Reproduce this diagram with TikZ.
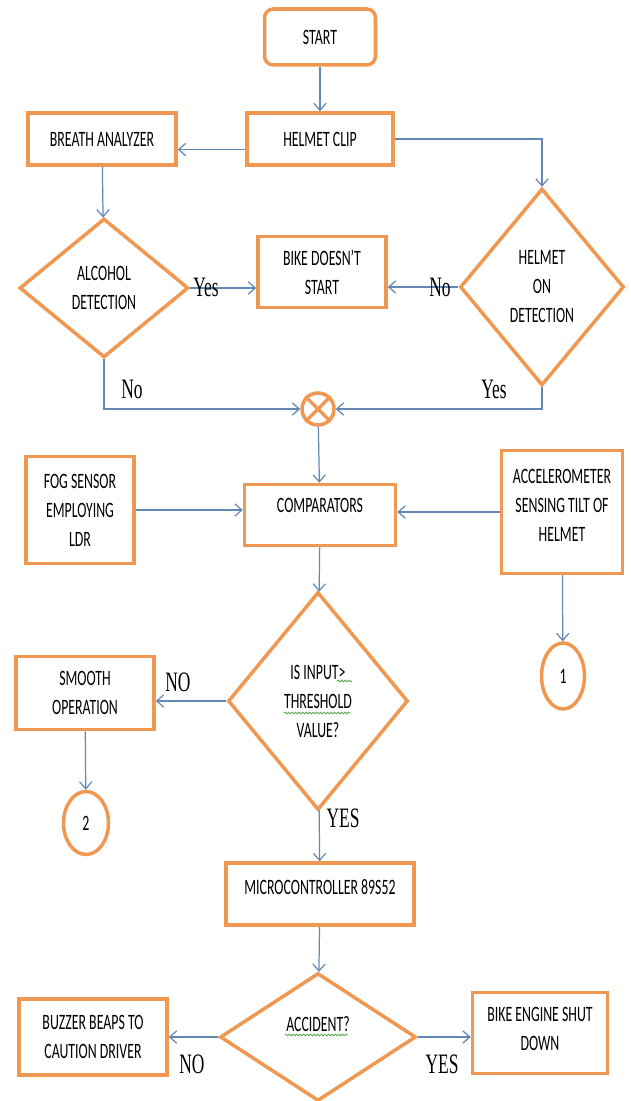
\documentclass[tikz,border=0pt]{standalone}
\usepackage{fontspec}
\usepackage{tikz}
\usetikzlibrary{shapes.geometric,arrows.meta,decorations.pathmorphing}
\newfontfamily\boxfamily[FakeStretch=0.63]{Carlito}
\newfontfamily\labelfamily[FakeStretch=0.62]{Liberation Serif}
\newcommand{\boxtext}{\boxfamily\fontsize{12.5}{16.5}\selectfont}
\newcommand{\labeltext}{\labelfamily\fontsize{16}{18}\selectfont}
\definecolor{boxorange}{RGB}{240,152,82}
\definecolor{linkblue}{RGB}{98,136,182}
\definecolor{spellgreen}{RGB}{92,168,80}
\tikzset{
  block/.style={draw=boxorange, line width=2pt, fill=white, font=\boxtext, align=center, inner sep=1pt},
  roundblock/.style={block, rounded corners=5pt},
  decision/.style={block, diamond},
  joint/.style={block, ellipse},
  flow/.style={draw=linkblue, line width=0.7pt, -{Straight Barb[length=4pt,width=7pt]}},
  lab/.style={font=\labeltext, inner sep=0pt},
  spell/.style={draw=spellgreen, line width=0.5pt, decorate, decoration={snake, amplitude=0.5pt, segment length=2pt}}
}

\begin{document}
\begin{tikzpicture}[x=0.02cm, y=-0.02cm]
   \useasboundingbox (0,0) rectangle (630,1101);
   \node[roundblock, minimum width=2.22cm, minimum height=1.12cm] (start) at (320,37) {START};
   \node[block, minimum width=2.92cm, minimum height=1.04cm] (clip) at (320,139) {HELMET CLIP};
   \node[block, minimum width=2.96cm, minimum height=1.04cm] (breath) at (102,139) {BREATH ANALYZER};
   \node[decision, minimum width=3.38cm, minimum height=2.78cm] (alcohol) at (104,288) {ALCOHOL\\DETECTION};
   \node[block, minimum width=2.56cm, minimum height=1.42cm] (nostart) at (322,272) {BIKE DOESN’T\\START};
   \node[decision, minimum width=3.28cm, minimum height=3.94cm] (helmet) at (542,287) {HELMET\\ON\\DETECTION};
   \node[circle, draw=boxorange, line width=2pt, fill=white, minimum size=0.64cm, inner sep=0pt] (sum) at (318,409) {};
   \draw[boxorange, line width=2pt] (sum.45) -- (sum.225) (sum.135) -- (sum.315);
   \node[block, minimum width=2.16cm, minimum height=2.14cm] (fog) at (80,510) {FOG SENSOR\\EMPLOYING\\LDR};
   \node[block, minimum width=3.02cm, minimum height=1.22cm, text depth=0.4cm] (comp) at (320,515) {COMPARATORS};
   \node[block, minimum width=2.42cm, minimum height=2.46cm, text depth=0.25cm] (accel) at (562,512) {ACCELEROMETER\\SENSING TILT OF\\HELMET};
   \node[joint, minimum width=0.86cm, minimum height=1.32cm] (one) at (563,676) {1};
   \node[decision, minimum width=3.6cm, minimum height=4.36cm] (thresh) at (318,701) {IS INPUT>\\THRESHOLD\\VALUE?};
   \node[block, minimum width=2.76cm, minimum height=1.46cm] (smooth) at (85,693) {SMOOTH\\OPERATION};
   \node[joint, minimum width=0.9cm, minimum height=1.26cm] (two) at (86,823) {2};
   \node[block, minimum width=3.76cm, minimum height=1.24cm, text depth=0.3cm] (micro) at (320,894) {MICROCONTROLLER 89S52};
   \node[decision, minimum width=3.92cm, minimum height=2.56cm, text depth=0.53cm] (accident) at (318,1037) {ACCIDENT?};
   \node[block, minimum width=2.96cm, minimum height=1.52cm] (buzzer) at (93,1037) {BUZZER BEAPS TO\\CAUTION DRIVER};
   \node[block, minimum width=2.7cm, minimum height=1.62cm, text depth=0.15cm] (engine) at (540,1033) {BIKE ENGINE SHUT\\DOWN};
   \draw[spell] (337,681) -- (352,681);
   \draw[spell] (284,713) -- (351,713);
   \draw[spell] (285,1035) -- (348,1035);
   \draw[flow] (start) -- (clip);
   \draw[flow] (clip.-172) -- (breath.east |- clip.-172);
   \draw[flow] (clip.east) -| (helmet.north);
   \draw[flow] (breath) -- (alcohol);
   \draw[flow] (alcohol.east) -- (nostart.west |- alcohol.east);
   \draw[flow] (helmet.west) -- (nostart.east |- helmet.west);
   \draw[flow] (alcohol.south) |- (sum.west);
   \draw[flow] (helmet.south) |- (sum.east);
   \draw[flow] (sum) -- (comp);
   \draw[flow] (fog.east) -- (comp.west |- fog.east);
   \draw[flow] (accel.west) -- (comp.east |- accel.west);
   \draw[flow] (accel) -- (one);
   \draw[flow] (comp) -- (thresh);
   \draw[flow] (thresh.west) -- (smooth.east |- thresh.west);
   \draw[flow] (smooth) -- (two);
   \draw[flow] (thresh) -- (micro);
   \draw[flow] (micro) -- (accident);
   \draw[flow] (accident.west) -- (buzzer.east |- accident.west);
   \draw[flow] (accident.east) -- (engine.west |- accident.east);
   \node[lab] (yesA) at (206,287) {Yes};
   \node[lab] (noH) at (440,287) {No};
   \node[lab] (noA) at (132,389) {No};
   \node[lab] (yesH) at (494,389) {Yes};
   \node[lab] (noT) at (178,682) {NO};
   \node[lab] (yesT) at (343,818) {YES};
   \node[lab] (noC) at (192,1064) {NO};
   \node[lab] (yesC) at (442,1064) {YES};
\end{tikzpicture}
\end{document}
